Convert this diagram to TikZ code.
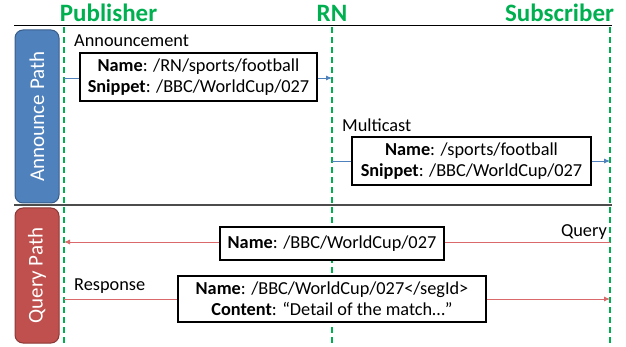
\documentclass[tikz,border=0pt]{standalone}
\usepackage{fontspec}
\setmainfont{Carlito}
\usetikzlibrary{arrows.meta}
\definecolor{pubgreen}{HTML}{00B050}
\definecolor{annblue}{HTML}{4F81BD}
\definecolor{annbluedark}{HTML}{385D8A}
\definecolor{qred}{HTML}{C0504D}
\definecolor{qreddark}{HTML}{8C3836}
\definecolor{qline}{HTML}{D9696A}
\begin{document}
\begin{tikzpicture}[x=1pt,y=-1pt,
 title/.style={font=\fontsize{25}{30}\selectfont\bfseries, text=pubgreen, inner sep=0pt, anchor=base},
 lifeline/.style={draw=pubgreen, line width=1.5pt, dash pattern=on 6pt off 4pt},
 pathbox/.style={rounded corners=8pt, line width=1pt, text=white, font=\fontsize{21}{24}\selectfont, inner sep=0pt},
 msgbox/.style={draw, line width=1.2pt, fill=white, align=center, font=\fontsize{18.3}{21}\selectfont, inner sep=0pt},
 lbl/.style={font=\fontsize{18.3}{21}\selectfont, inner sep=0pt},
 bluearrow/.style={draw=annblue, line width=0.8pt, -{Latex[length=6pt,width=5pt]}},
 redarrow/.style={draw=qline, line width=0.8pt, -{Latex[length=6pt,width=5pt]}},
]
\useasboundingbox (0,0) rectangle (626,347);
% titles
\node[title] (pub) at (108.5,22) {Publisher};
\node[title] (rn) at (332,22) {RN};
\node[title] (sub) at (559.5,22) {Subscriber};
% horizontal rules
\coordinate (topL) at (14,26);
\coordinate (topR) at (612,26);
\draw[line width=1pt] (topL) -- (topR);
\coordinate (sepL) at (14,205);
\coordinate (sepR) at (612,205);
\draw[line width=1.5pt, gray!60!black] (sepL) -- (sepR);
% lifelines
\coordinate (pubT) at (64,27);
\coordinate (pubB) at (64,347);
\coordinate (rnT) at (332,27);
\coordinate (rnB) at (332,347);
\coordinate (subT) at (610,27);
\coordinate (subB) at (610,347);
\draw[lifeline] (pubT) -- (pubB);
\draw[lifeline] (rnT) -- (rnB);
\draw[lifeline] (subT) -- (subB);
% path boxes
\node[pathbox, fill=annblue, draw=annbluedark, rotate=90, minimum width=173pt, minimum height=44pt] (ann) at (37,116.5) {Announce Path};
\node[pathbox, fill=qred, draw=qreddark, rotate=90, minimum width=135pt, minimum height=44pt] (qry) at (37,275.5) {Query Path};
% announcement
\coordinate (a1) at (64,78);
\coordinate (a2) at (332,78);
\draw[bluearrow] (a1) -- (a2);
\node[lbl, anchor=base west] (annlbl) at (74,47) {Announcement};
\node[msgbox, minimum width=237pt, minimum height=48pt] (annbox) at (198.5,77) {\textbf{Name}: /RN/sports/football\\\textbf{Snippet}: /BBC/WorldCup/027};
% multicast
\coordinate (m1) at (332,161);
\coordinate (m2) at (610,161);
\draw[bluearrow] (m1) -- (m2);
\node[lbl, anchor=base west] (mclbl) at (342,132) {Multicast};
\node[msgbox, minimum width=239pt, minimum height=48pt] (mcbox) at (471.5,161) {\textbf{Name}: /sports/football\\\textbf{Snippet}: /BBC/WorldCup/027};
% query
\coordinate (q1) at (610,242);
\coordinate (q2) at (64,242);
\draw[redarrow] (q1) -- (q2);
\node[lbl, anchor=base east] (qlbl) at (607,237) {Query};
\node[msgbox, minimum width=224pt, minimum height=33pt] (qbox) at (332,243.5) {\textbf{Name}: /BBC/WorldCup/027};
% response
\coordinate (r1) at (64,299);
\coordinate (r2) at (610,299);
\draw[redarrow] (r1) -- (r2);
\node[lbl, anchor=base west] (rlbl) at (74,290) {Response};
\node[msgbox, minimum width=308pt, minimum height=46pt] (rbox) at (332,299) {\textbf{Name}: /BBC/WorldCup/027</segId>\\\textbf{Content}: “Detail of the match…”};
\end{tikzpicture}
\end{document}
